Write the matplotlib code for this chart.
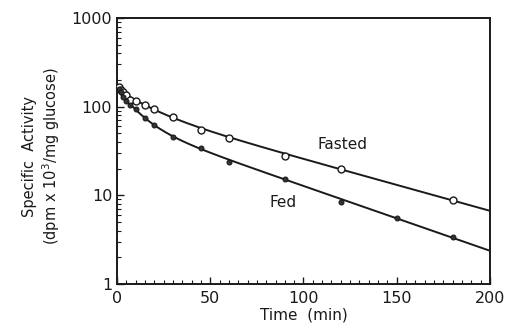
import numpy as np
from matplotlib import pyplot as plt
from matplotlib.ticker import FixedLocator, MultipleLocator, LogLocator, NullFormatter

# 데이터
t_fasted = [1, 2, 3, 5, 7, 10, 15, 20, 30, 45, 60, 90, 120, 180]
sa_fasted = [165, 155, 145, 135, 120, 115, 105, 95, 76, 55, 44, 28, 20, 8.8]
t_fed = [1, 2, 3, 5, 7, 10, 15, 20, 30, 45, 60, 90, 120, 150, 180]
sa_fed = [160, 145, 130, 115, 105, 95, 75, 62, 46, 34, 24, 15.3, 8.5, 5.6, 3.4]

x_ticks = [0, 50, 100, 150, 200]
y_ticks = [1, 10, 100, 1000]


def peel_fit(t, y, t_split=45, t_early=20):
    # 두 지수함수 합으로 곡선 분리 (curve peeling)
    t = np.asarray(t, float)
    y = np.asarray(y, float)
    late = t >= t_split
    b1, a1 = np.polyfit(t[late], np.log(y[late]), 1)
    early = t <= t_early
    resid = np.clip(y[early] - np.exp(a1 + b1 * t[early]), 1e-3, None)
    b2, a2 = np.polyfit(t[early], np.log(resid), 1)
    tt = np.linspace(0, 200, 400)
    return tt, np.exp(a1 + b1 * tt) + np.exp(a2 + b2 * tt)


fig = plt.figure(figsize=(5.12, 3.32), dpi=100)
ax = fig.add_axes([0.2285, 0.1446, 0.7285, 0.801])

ink = '#1a1a1a'
for t, y in [(t_fasted, sa_fasted), (t_fed, sa_fed)]:
    tt, yy = peel_fit(t, y)
    ax.plot(tt, yy, color=ink, lw=1.4, zorder=2)

ax.plot(t_fasted, sa_fasted, 'o', ms=5, mfc='white', mec=ink, mew=1.0, zorder=3)
ax.plot(t_fed, sa_fed, 'o', ms=3.5, mfc='#333333', mec=ink, mew=0.8, zorder=3)

ax.set_yscale('log')
ax.set_xlim(0, 200)
ax.set_ylim(1, 1000)

ax.xaxis.set_major_locator(FixedLocator(x_ticks))
ax.xaxis.set_minor_locator(MultipleLocator(5))
ax.yaxis.set_major_locator(FixedLocator(y_ticks))
ax.yaxis.set_minor_locator(LogLocator(subs=np.arange(2, 10)))
ax.yaxis.set_minor_formatter(NullFormatter())
ax.set_xticklabels([str(v) for v in x_ticks])
ax.set_yticklabels([str(v) for v in y_ticks])

ax.tick_params(which='both', direction='in', color=ink, labelsize=11.5, labelcolor=ink)
ax.tick_params(which='major', length=5, width=1.0)
ax.tick_params(which='minor', length=3, width=0.8)
ax.tick_params(axis='x', pad=5)
for s in ax.spines.values():
    s.set_linewidth(1.4)
    s.set_color(ink)

ax.set_xlabel('Time  (min)', fontsize=11, color=ink, labelpad=1)
fig.text(0.058, 0.53, 'Specific  Activity', rotation=90, ha='center', va='center',
         fontsize=10.5, color=ink)
fig.text(0.1, 0.53, r'(dpm x 10$^3$/mg glucose)', rotation=90, ha='center', va='center',
         fontsize=10.5, color=ink)

ax.text(121, 37, 'Fasted', ha='center', va='center', fontsize=11, color=ink)
ax.text(89, 8.2, 'Fed', ha='center', va='center', fontsize=11, color=ink)

plt.savefig('out.png', dpi=100)
